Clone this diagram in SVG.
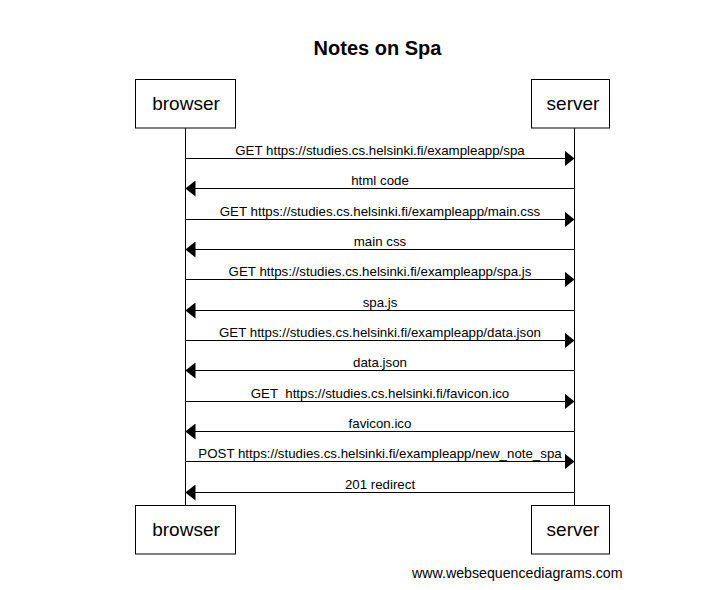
<svg xmlns="http://www.w3.org/2000/svg" width="725" height="590" viewBox="0 0 725 590">
<style>
.box{fill:#fff;stroke:#000;stroke-width:1}
.life{stroke:#000;stroke-width:1}
.msg{stroke:#000;stroke-width:1;fill:none;marker-end:url(#ah)}
.lbl{font-family:"Liberation Sans",Arial,sans-serif;font-size:13.3px;fill:#000;text-anchor:middle}
.pt{font-family:"Liberation Sans",Arial,sans-serif;font-size:19px;fill:#000;text-anchor:middle}
.title{font-family:"Liberation Sans",Arial,sans-serif;font-size:20px;font-weight:bold;fill:#000;text-anchor:middle}
.foot{font-family:"Liberation Sans",Arial,sans-serif;font-size:14.2px;fill:#000}
</style>
<defs>
<marker id="ah" viewBox="0 0 10 16" refX="10" refY="8" markerWidth="10" markerHeight="16" markerUnits="userSpaceOnUse" orient="auto">
<path d="M0,0 L10,8 L0,16 z" fill="#000"/>
</marker>
</defs>
<rect width="725" height="590" fill="#fff"/>
<text class="title" x="377.5" y="55">Notes on Spa</text>
<g id="lifelines">
<line class="life" x1="185.5" y1="128" x2="185.5" y2="505"/>
<line class="life" x1="574.5" y1="128" x2="574.5" y2="505"/>
</g>
<g id="browser-top"><rect class="box" x="135.5" y="79.5" width="100" height="48.5"/><text class="pt" x="186" y="110">browser</text></g>
<g id="server-top"><rect class="box" x="531.5" y="79.5" width="78" height="48.5"/><text class="pt" x="573" y="110">server</text></g>
<g id="browser-bottom"><rect class="box" x="135.5" y="505.5" width="100" height="48.5"/><text class="pt" x="186" y="536">browser</text></g>
<g id="server-bottom"><rect class="box" x="531.5" y="505.5" width="78" height="48.5"/><text class="pt" x="573" y="536">server</text></g>
<g id="connectors">
<line class="msg" x1="185.5" y1="158.5" x2="574.5" y2="158.5"/>
<text class="lbl" x="380" y="155">GET https://studies.cs.helsinki.fi/exampleapp/spa</text>
<line class="msg" x1="574.5" y1="188.5" x2="185.5" y2="188.5"/>
<text class="lbl" x="380" y="185">html code</text>
<line class="msg" x1="185.5" y1="219.5" x2="574.5" y2="219.5"/>
<text class="lbl" x="380" y="216">GET https://studies.cs.helsinki.fi/exampleapp/main.css</text>
<line class="msg" x1="574.5" y1="249.5" x2="185.5" y2="249.5"/>
<text class="lbl" x="380" y="246">main css</text>
<line class="msg" x1="185.5" y1="279.5" x2="574.5" y2="279.5"/>
<text class="lbl" x="380" y="276">GET https://studies.cs.helsinki.fi/exampleapp/spa.js</text>
<line class="msg" x1="574.5" y1="310.5" x2="185.5" y2="310.5"/>
<text class="lbl" x="380" y="307">spa.js</text>
<line class="msg" x1="185.5" y1="340.5" x2="574.5" y2="340.5"/>
<text class="lbl" x="380" y="337">GET https://studies.cs.helsinki.fi/exampleapp/data.json</text>
<line class="msg" x1="574.5" y1="370.5" x2="185.5" y2="370.5"/>
<text class="lbl" x="380" y="367">data.json</text>
<line class="msg" x1="185.5" y1="401.5" x2="574.5" y2="401.5"/>
<text class="lbl" x="380" y="398" xml:space="preserve">GET  https://studies.cs.helsinki.fi/favicon.ico</text>
<line class="msg" x1="574.5" y1="431.5" x2="185.5" y2="431.5"/>
<text class="lbl" x="380" y="428">favicon.ico</text>
<line class="msg" x1="185.5" y1="461.5" x2="574.5" y2="461.5"/>
<text class="lbl" x="380" y="458">POST https://studies.cs.helsinki.fi/exampleapp/new_note_spa</text>
<line class="msg" x1="574.5" y1="492.5" x2="185.5" y2="492.5"/>
<text class="lbl" x="380" y="489">201 redirect</text>
</g>
<text class="foot" x="412" y="578">www.websequencediagrams.com</text>
</svg>
